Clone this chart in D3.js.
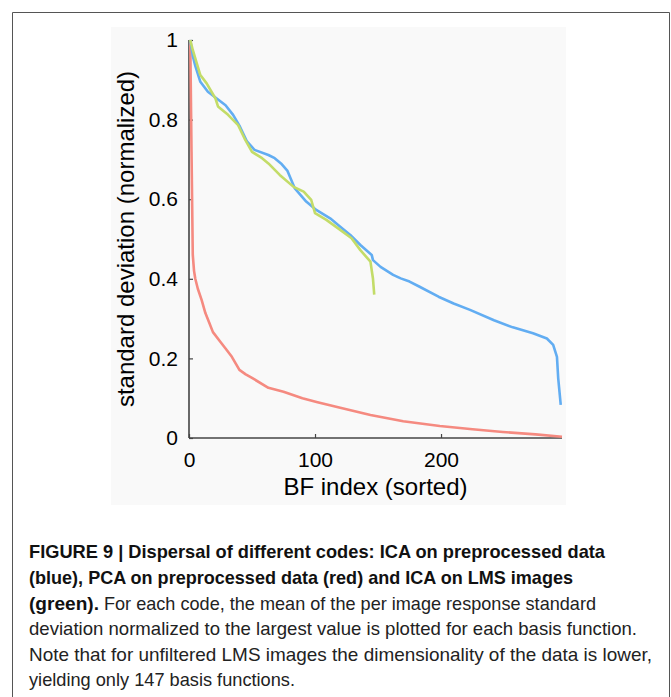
<html>

<head>
  <title>Figure 9</title>
  <style>
    body { margin: 0; background: #fff; }
    text { font-family: "Liberation Sans", Arial, sans-serif; }
  </style>
</head>

<body>
  <script src="https://cdnjs.cloudflare.com/ajax/libs/d3/7.8.5/d3.min.js"></script>
  <script>
    // values (BF index, normalized std)
    var blueIdx = [1, 3, 5, 9, 15, 22, 29, 35, 40, 46, 52, 63, 68, 73, 78, 84, 93, 101, 112, 120, 128, 136, 145, 146, 152, 162, 168, 175, 183, 198, 210, 223, 242, 257, 273, 284, 289, 292, 293, 295];
    var blueVal = [1.0, 0.96, 0.935, 0.895, 0.870, 0.853, 0.836, 0.812, 0.785, 0.745, 0.724, 0.711, 0.703, 0.690, 0.672, 0.627, 0.594, 0.573, 0.552, 0.531, 0.510, 0.485, 0.460, 0.447, 0.430, 0.410, 0.401, 0.393, 0.380, 0.355, 0.338, 0.322, 0.296, 0.278, 0.263, 0.250, 0.234, 0.204, 0.150, 0.083];

    var redIdx = [1, 2, 3, 4, 5, 7, 10, 13, 16, 19, 25, 29, 34, 40, 45, 50, 63, 75, 90, 102, 120, 144, 170, 199, 225, 249, 275, 296];
    var redVal = [1.0, 0.72, 0.46, 0.42, 0.40, 0.375, 0.347, 0.314, 0.29, 0.266, 0.241, 0.225, 0.204, 0.171, 0.16, 0.151, 0.126, 0.116, 0.10, 0.09, 0.076, 0.058, 0.042, 0.030, 0.022, 0.015, 0.009, 0.003];

    var greenIdx = [1, 3, 5, 9, 14, 21, 23, 31, 39, 44, 50, 58, 63, 72, 83, 91, 97, 100, 109, 120, 129, 136, 144, 146, 147];
    var greenVal = [1.0, 0.975, 0.954, 0.912, 0.891, 0.853, 0.833, 0.812, 0.786, 0.753, 0.719, 0.703, 0.690, 0.661, 0.631, 0.619, 0.598, 0.565, 0.548, 0.523, 0.502, 0.472, 0.443, 0.40, 0.36];

    var xTicks = [0, 100, 200];
    var yTicks = [0, 0.2, 0.4, 0.6, 0.8, 1];

    var captionBold = ["FIGURE 9 | Dispersal of different codes: ICA on preprocessed data",
      "(blue), PCA on preprocessed data (red) and ICA on LMS images",
      "(green)."];
    var captionText = ["For each code, the mean of the per image response standard",
      "deviation normalized to the largest value is plotted for each basis function.",
      "Note that for unfiltered LMS images the dimensionality of the data is lower,",
      "yielding only 147 basis functions."];

    var W = 671, H = 697;
    var margin = { top: 40, right: 109, bottom: 259, left: 189 };
    var width = W - margin.left - margin.right;
    var height = H - margin.top - margin.bottom;

    var root = d3.select("body").append("svg")
      .attr("width", W)
      .attr("height", H);

    // frame around the figure
    root.append("path")
      .attr("d", "M12.5," + H + "V12.5H669.5V" + H)
      .attr("fill", "none")
      .attr("stroke", "#555")
      .attr("stroke-width", 1);

    // light panel behind the chart
    root.append("rect")
      .attr("x", 111).attr("y", 27)
      .attr("width", 455).attr("height", 478)
      .attr("fill", "#f9f9f9");

    var svg = root.append("g")
      .attr("transform", "translate(" + margin.left + "," + margin.top + ")");

    var x = d3.scaleLinear().domain([0, 296]).range([0, width]);
    var y = d3.scaleLinear().domain([0, 1]).range([height, 0]);

    var xAxis = d3.axisBottom(x).tickValues(xTicks).tickSize(-4).tickPadding(10)
      .tickFormat(d3.format("d"));
    var gx = svg.append("g")
      .attr("transform", "translate(0," + height + ")")
      .call(xAxis);

    var yAxis = d3.axisLeft(y).tickValues(yTicks).tickSize(-4).tickPadding(11)
      .tickFormat(function (d) { return d === 0 || d === 1 ? d : d3.format(".1f")(d); });
    var gy = svg.append("g").call(yAxis);

    [gx, gy].forEach(function (g) {
      g.select(".domain").attr("stroke", "#444").attr("stroke-width", 1.6)
        .attr("d", g === gx ? "M0,0H" + width : "M0,0V" + height);
      g.selectAll(".tick line").attr("stroke", "#444").attr("stroke-width", 1.2);
      g.selectAll(".tick text").attr("fill", "#000")
        .style("font-size", "21px")
        .style("font-family", "'Liberation Sans', Arial, sans-serif");
    });
    gx.selectAll(".tick text").attr("dy", "0.9em");

    svg.append("text")
      .attr("x", width / 2)
      .attr("y", height + 57)
      .attr("text-anchor", "middle")
      .style("font-size", "24px")
      .text("BF index (sorted)");

    svg.append("text")
      .attr("transform", "rotate(-90)")
      .attr("x", -height / 2)
      .attr("y", -55)
      .attr("text-anchor", "middle")
      .style("font-size", "24px")
      .text("standard deviation (normalized)");

    var line = d3.line()
      .x(function (d) { return x(d[0]); })
      .y(function (d) { return y(d[1]); });

    var series = [
      { idx: redIdx, val: redVal, color: "#f58a80" },
      { idx: blueIdx, val: blueVal, color: "#62adf2" },
      { idx: greenIdx, val: greenVal, color: "#c3dc68" }
    ];

    svg.selectAll(".curve")
      .data(series)
      .enter()
      .append("path")
      .attr("class", "curve")
      .attr("fill", "none")
      .attr("stroke", function (d) { return d.color; })
      .attr("stroke-width", 2.6)
      .attr("stroke-linejoin", "round")
      .attr("d", function (d) { return line(d.idx.map(function (v, i) { return [v, d.val[i]]; })); });

    // caption (condensed look: squeeze each line to its measured width)
    var cap = root.append("g").style("font-size", "19px");
    var baseY = [558, 584, 610, 635, 661, 686];
    var boldW = [576, 544, 70];
    captionBold.forEach(function (t, i) {
      cap.append("text")
        .attr("x", 29).attr("y", baseY[i])
        .attr("font-weight", "bold")
        .attr("fill", "#111")
        .attr("textLength", boldW[i])
        .attr("lengthAdjust", "spacingAndGlyphs")
        .text(t);
    });
    var textX = [104, 29, 29, 29];
    var textW = [492, 608, 623, 266];
    captionText.forEach(function (t, i) {
      cap.append("text")
        .attr("x", textX[i]).attr("y", baseY[i + 2])
        .attr("fill", "#222")
        .attr("textLength", textW[i])
        .attr("lengthAdjust", "spacingAndGlyphs")
        .text(t);
    });
  </script>
</body>

</html>
